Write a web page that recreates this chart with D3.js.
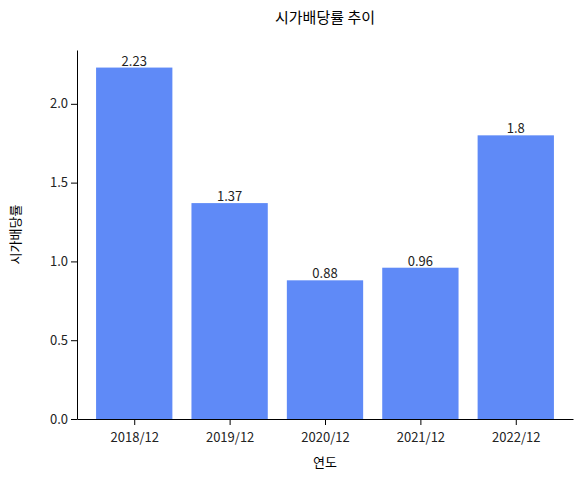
<!DOCTYPE html>
<html><head><meta charset="utf-8">
<script src="https://cdn.jsdelivr.net/npm/d3@7"></script>
<style>body{margin:0;background:#fff}text{font-family:"Noto Sans CJK KR","Noto Sans",sans-serif}</style>
</head><body>
<script>
const categories=["2018/12","2019/12","2020/12","2021/12","2022/12"];
const values=[2.23,1.37,0.88,0.96,1.8];
const yTicks=[0,0.5,1.0,1.5,2.0];
const W=582,H=479,m={l:77,r:9,t:50,b:60};
const svg=d3.select("body").append("svg").attr("width",W).attr("height",H);
const x=d3.scaleLinear().domain([-0.6,4.6]).range([m.l,W-m.r]);
const y=d3.scaleLinear().domain([0,2.3415]).range([H-m.b,m.t]);
const g=svg.append("g");
g.selectAll("rect").data(values).join("rect")
 .attr("x",(d,i)=>x(i-0.4)).attr("width",x(0.8)-x(0))
 .attr("y",d=>y(d)).attr("height",d=>y(0)-y(d)).attr("fill","#5f8af7");
g.selectAll(".lbl").data(values).join("text")
 .attr("x",(d,i)=>x(i)).attr("y",d=>y(d)-2).attr("text-anchor","middle")
 .attr("font-size",13).attr("fill","#222").text(d=>d);
const xa=svg.append("g").attr("transform",`translate(0,${H-m.b})`)
 .call(d3.axisBottom(x).tickValues(d3.range(5)).tickFormat(i=>categories[i]).tickSizeOuter(0));
const ya=svg.append("g").attr("transform",`translate(${m.l},0)`)
 .call(d3.axisLeft(y).tickValues(yTicks).tickFormat(d3.format(".1f")).tickSizeOuter(0));
[xa,ya].forEach(a=>{a.selectAll("text").attr("font-size",13).attr("fill","#222");a.select(".domain").attr("stroke","#000");a.selectAll(".tick line").attr("stroke","#000");});
xa.selectAll("text").attr("dy","1.1em");
svg.append("text").attr("x",(m.l+W-m.r)/2).attr("y",23).attr("text-anchor","middle").attr("font-size",15).text("시가배당률 추이");
svg.append("text").attr("x",(m.l+W-m.r)/2).attr("y",467).attr("text-anchor","middle").attr("font-size",13).text("연도");
svg.append("text").attr("transform",`translate(20,${(m.t+H-m.b)/2}) rotate(-90)`).attr("text-anchor","middle").attr("font-size",13).text("시가배당률");
</script></body></html>
